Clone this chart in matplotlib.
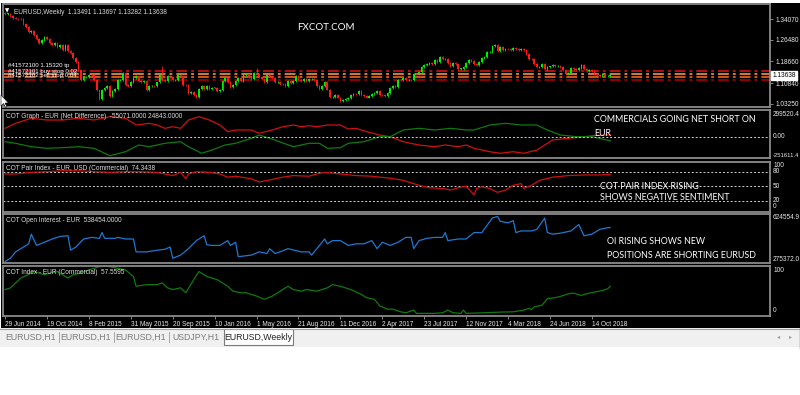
import numpy as np
import matplotlib.pyplot as plt
import matplotlib.transforms as mtrans
from matplotlib.patches import Rectangle, Polygon

# ---- data ----
first_open = 1.3640
closes = [
    1.3605, 1.3605, 1.3525, 1.3430, 1.3425, 1.3410, 1.3400, 1.3240, 1.3130, 1.2950,
    1.2960, 1.2830, 1.2680, 1.2520, 1.2630, 1.2760, 1.2670, 1.2525, 1.2455, 1.2525,
    1.2390, 1.2450, 1.2290, 1.2460, 1.2230, 1.2190, 1.2000, 1.1840, 1.1570, 1.1205,
    1.1290, 1.1310, 1.1385, 1.1380, 1.1195, 1.0840, 1.0495, 1.0825, 1.0890, 1.0970,
    1.0600, 1.0810, 1.0870, 1.1200, 1.1200, 1.1450, 1.1015, 1.0990, 1.1110, 1.1260,
    1.1350, 1.1165, 1.1110, 1.1160, 1.0830, 1.0985, 1.0985, 1.0970, 1.1105, 1.1385,
    1.1180, 1.1150, 1.1340, 1.1295, 1.1195, 1.1210, 1.1360, 1.1350, 1.1015, 1.1005,
    1.0740, 1.0770, 1.0645, 1.0590, 1.0885, 1.0990, 1.0870, 1.0970, 1.0860, 1.0920,
    1.0915, 1.0795, 1.0830, 1.1155, 1.1255, 1.1130, 1.0935, 1.1005, 1.1150, 1.1270,
    1.1165, 1.1390, 1.1395, 1.1285, 1.1225, 1.1455, 1.1405, 1.1310, 1.1225, 1.1115,
    1.1365, 1.1315, 1.1280, 1.1115, 1.1135, 1.1055, 1.1040, 1.0975, 1.1175, 1.1085,
    1.1160, 1.1325, 1.1195, 1.1155, 1.1235, 1.1155, 1.1225, 1.1240, 1.1200, 1.0970,
    1.0885, 1.0985, 1.1140, 1.0850, 1.0585, 1.0590, 1.0665, 1.0560, 1.0450, 1.0455,
    1.0520, 1.0530, 1.0645, 1.0705, 1.0695, 1.0780, 1.0640, 1.0615, 1.0560, 1.0620,
    1.0700, 1.0735, 1.0800, 1.0650, 1.0640, 1.0615, 1.0725, 1.0895, 1.0995, 1.0935,
    1.1205, 1.1180, 1.1280, 1.1195, 1.1200, 1.1195, 1.1425, 1.1400, 1.1470, 1.1665,
    1.1745, 1.1775, 1.1820, 1.1760, 1.1925, 1.1860, 1.2035, 1.1945, 1.1950, 1.1815,
    1.1710, 1.1820, 1.1785, 1.1610, 1.1610, 1.1665, 1.1795, 1.1935, 1.1895, 1.1770,
    1.1745, 1.1860, 1.2005, 1.2030, 1.2200, 1.2220, 1.2425, 1.2460, 1.2250, 1.2405,
    1.2295, 1.2315, 1.2305, 1.2285, 1.2355, 1.2325, 1.2280, 1.2330, 1.2285, 1.2130,
    1.1960, 1.1940, 1.1770, 1.1655, 1.1660, 1.1770, 1.1605, 1.1655, 1.1685, 1.1745,
    1.1685, 1.1720, 1.1655, 1.1565, 1.1410, 1.1440, 1.1620, 1.1600, 1.1550, 1.1625,
    1.1745, 1.1605, 1.1525, 1.1560, 1.1510, 1.1400, 1.1385, 1.1335, 1.1415, 1.1340,
    1.1349, 1.13638]
spike_highs = {60: 1.1714, 96: 1.1616}
order_levels = [1.1532, 1.1413, 1.1315, 1.1195]

date_labels = ['29 Jun 2014', '19 Oct 2014', '8 Feb 2015', '31 May 2015', '20 Sep 2015',
               '10 Jan 2016', '1 May 2016', '21 Aug 2016', '11 Dec 2016', '2 Apr 2017',
               '23 Jul 2017', '12 Nov 2017', '4 Mar 2018', '24 Jun 2018', '14 Oct 2018']
price_ticks = [1.34070, 1.26480, 1.18660, 1.10840, 1.03250]

# COT graph (net difference)
red_weeks = [0, 4, 10, 16, 22, 28, 34, 40, 46, 50, 55, 58, 61, 64, 67, 70, 74, 78, 82, 85,
             88, 94, 97, 102, 106, 110, 113, 116, 119, 123, 128, 131, 134, 138, 143, 147, 152,
             158, 164, 168, 173, 176, 179, 185, 189, 194, 198, 203, 206, 209, 215, 221, 225, 231]
red_net = [110500, 176600, 242700, 220200, 220200, 242700, 220200, 263800, 242700, 154100,
           176600, 154100, 110500, 131600, 110500, 220200, 263800, 220200, 154100, 65600,
           88000, 88000, 44400, 88000, 131600, 154100, 131600, 144900, 131600, 154100,
           154100, 101200, 110500, 65600, 21900, -500, -66600, -110200, -132700, -110200,
           -132700, -110200, -153800, -198800, -219900, -198800, -219900, -176300, -110200,
           -44100, -21700, -500, 15300, 24843]
green_weeks = [0, 4, 10, 16, 22, 28, 34, 40, 46, 51, 55, 61, 67, 70, 75, 79, 84, 88, 94, 97,
               103, 110, 116, 120, 123, 128, 131, 137, 143, 147, 152, 158, 164, 170, 176, 179,
               185, 191, 197, 203, 207, 212, 218, 224, 231]
green_net = [-66600, -87800, -132700, -153800, -145900, -132700, -153800, -251611, -198800,
             -110200, -132700, -87800, -66600, -132700, -219900, -176300, -110200, -87800,
             -21700, 21900, -44100, -132700, -87800, -87800, -153800, -145900, -87800, -66600,
             -500, -500, 88000, 110500, 88000, 110500, 88000, 88000, 154100, 176600, 154100,
             154100, 88000, 21900, -500, -500, -55071]

# COT pair index
pair_weeks = [0, 4, 10, 16, 22, 28, 34, 40, 46, 52, 58, 61, 64, 67, 69, 70, 73, 78, 82, 85,
              88, 94, 97, 102, 106, 110, 116, 119, 122, 128, 134, 140, 143, 147, 152, 158, 162,
              167, 170, 173, 176, 179, 180, 182, 185, 188, 191, 194, 197, 198, 201, 204, 209,
              215, 221, 227, 231]
pair_index = [75.3, 75.3, 78.7, 80, 82, 82, 80, 78.7, 80, 80, 78.7, 75.3, 72, 78.7, 65.3,
              75.3, 80, 78.7, 75.3, 68.7, 70.7, 65.3, 58.7, 64, 68.7, 72, 70.7, 75.3, 78.7,
              75.3, 72, 70.7, 68.7, 66.7, 62, 52, 46.7, 45.3, 42, 46.7, 50, 32, 45.3, 48.7,
              45.3, 37.3, 42, 52, 55.3, 45.3, 52, 62, 68.7, 72, 73.3, 73.3, 74.3438]

# COT open interest
oi_weeks = [0, 2, 4, 6, 9, 10, 12, 15, 18, 21, 24, 25, 27, 30, 33, 36, 37, 38, 42, 43, 46,
            49, 50, 54, 58, 61, 63, 64, 67, 70, 73, 76, 77, 79, 82, 85, 86, 88, 89, 94, 97,
            100, 101, 103, 105, 108, 113, 116, 117, 120, 122, 123, 125, 128, 131, 134, 137,
            140, 142, 144, 147, 150, 153, 155, 156, 158, 161, 164, 167, 168, 169, 173, 176,
            179, 182, 186, 188, 189, 192, 194, 195, 197, 201, 203, 206, 207, 209, 212, 216,
            219, 221, 224, 227, 230, 231]
open_interest = [275372, 300300, 350200, 375100, 412500, 487400, 400100, 425000, 450000,
                 469900, 474900, 362700, 387600, 450000, 462400, 455000, 499800, 455000,
                 455000, 462400, 450000, 450000, 350200, 350200, 362700, 370200, 387600,
                 300300, 325300, 375100, 437500, 474900, 405100, 400100, 400100, 437500,
                 400100, 425000, 312800, 325300, 350200, 337700, 375100, 337700, 350200,
                 375100, 350200, 350200, 325300, 400100, 450000, 412500, 437500, 437500,
                 400100, 412500, 412500, 437500, 375100, 425000, 400100, 425000, 462400,
                 462400, 375100, 437500, 455000, 462400, 462400, 499800, 437500, 450000,
                 450000, 499800, 499800, 612100, 624554, 587100, 574700, 592100, 499800,
                 512300, 512300, 524800, 612000, 499800, 487400, 494900, 512300, 562200,
                 474900, 487400, 524800, 537300, 538454]

# COT index (commercial)
idx_weeks = [0, 2, 6, 10, 11, 15, 17, 20, 24, 26, 29, 32, 36, 39, 43, 46, 49, 50, 54, 58,
             60, 62, 64, 67, 69, 72, 74, 77, 81, 85, 87, 90, 92, 96, 99, 102, 108, 110, 113,
             115, 119, 123, 125, 128, 132, 136, 138, 141, 143, 146, 148, 151, 153, 156, 157,
             164, 167, 169, 171, 174, 175, 176, 183, 189, 194, 198, 200, 201, 202, 205, 207,
             210, 212, 215, 217, 220, 222, 225, 228, 230, 231]
cot_index = [50.6, 54, 75, 85.4, 88.8, 81.9, 85.4, 88.8, 75, 81.9, 85.4, 92.3, 99.2, 100,
             95.8, 92.3, 78.3, 57.5, 61, 61, 64.6, 54.2, 50.6, 54.2, 43.8, 71.5, 88.8, 78.3,
             71.5, 57.5, 47.1, 43.8, 43.8, 36.7, 29.8, 36.7, 57.5, 50.6, 47.1, 50.6, 47.1,
             54.2, 61, 57.5, 50.6, 40.2, 33.3, 29.8, 15.8, 9, 9, 3.3, 1.3, 6.9, 0, 0, 1.3,
             6.9, 1.3, 0, 6.9, 0, 1.3, 2.7, 3.3, 6.9, 10.4, 8.3, 13.9, 17.4, 31.2, 33.3, 36.1,
             41.7, 43, 38.2, 41.7, 45.1, 48.6, 52.1, 57.5595]

W, H = 800, 395
FS = 4.7  # small MT4 style text
plt.rcParams['font.family'] = ['Liberation Sans', 'DejaVu Sans']

fig = plt.figure(figsize=(8, 3.95), dpi=100)
fig.patch.set_facecolor('white')


def rect(x0, y0, x1, y1, **kw):
    fig.add_artist(Rectangle((x0 / W, 1 - y1 / H), (x1 - x0) / W, (y1 - y0) / H,
                             transform=fig.transFigure, **kw))


def ftext(x, y, s, **kw):
    fig.text(x / W, 1 - y / H, s, **kw)


# window background
rect(1, 3, 800, 328, facecolor='black', edgecolor='none', zorder=0)
rect(0, 328, 800, 347, facecolor='#f0f0f0', edgecolor='none', zorder=0)


def add_panel(y0, y1):
    ax = fig.add_axes([3 / W, 1 - y1 / H, 767 / W, (y1 - y0) / H])
    ax.set_facecolor('black')
    ax.set_xlim(-0.8, 292)
    for s in ax.spines.values():
        s.set_color('#8a8a8a')
        s.set_linewidth(1.3)
    ax.tick_params(axis='x', bottom=False, labelbottom=False)
    ax.yaxis.tick_right()
    ax.tick_params(axis='y', colors='#9a9a9a', labelcolor='#e8e8e8', length=2.5,
                   width=0.6, labelsize=FS, pad=1.2)
    return ax


def side_label(ax, yval, s, fs=FS):
    tr = mtrans.blended_transform_factory(ax.transAxes, ax.transData)
    ax.text(1.004, yval, s, transform=tr, color='#e8e8e8', fontsize=fs,
            va='center', ha='left', clip_on=False)


def title(ax, s):
    ax.text(0.004, 0.93, s, transform=ax.transAxes, color='#dcdcdc', fontsize=FS,
            va='top', ha='left')


# ---- price panel ----
ax1 = add_panel(4, 107)
ax1.set_ylim(1.0216, 1.3951)
ax1.set_yticks(price_ticks)
ax1.set_yticklabels(['%.5f' % p for p in price_ticks])

x = np.arange(len(closes))
c = np.array(closes)
o = np.array([first_open] + closes[:-1])
up = c >= o
colors = np.where(up, '#00ee00', '#ff1a1a')
top = np.maximum(o, c)
bot = np.minimum(o, c)
hi = top + 0.0035
lo = bot - 0.0035
for i, h in spike_highs.items():
    hi[i] = h
ax1.vlines(x, lo, hi, colors=colors, linewidth=0.6, zorder=3)
ax1.bar(x, np.maximum(top - bot, 0.0009), bottom=bot, width=0.62, color=colors,
        linewidth=0, zorder=4)

level_colors = ['#c41010', '#d88a4a', '#e05a20', '#9a0000']
for lv, lc in zip(order_levels, level_colors):
    ax1.axhline(lv, color=lc, linewidth=1.3, linestyle=(0, (6, 2.2, 1.6, 2.2)), zorder=2)

tr1 = mtrans.blended_transform_factory(ax1.transAxes, ax1.transData)
ax1.text(1.003, closes[-1], '1.13638', transform=tr1, color='black', fontsize=FS,
         va='center', ha='left', clip_on=False,
         bbox=dict(facecolor='white', edgecolor='white', pad=0.8))

ax1.text(0.003, 0.955, '\u25bc', transform=ax1.transAxes, color='white', fontsize=4,
         va='top', ha='left', family='DejaVu Sans')
ax1.text(0.014, 0.955, 'EURUSD,Weekly  1.13491 1.13697 1.13282 1.13638',
         transform=ax1.transAxes, color='#dcdcdc', fontsize=FS, va='top', ha='left')
ftext(297, 27, 'FXCOT.COM', color='white', fontsize=7, family=['Lato', 'DejaVu Sans'],
      va='center', ha='left')
ftext(8, 66, '#41572100 1.15320 tp', color='white', fontsize=4.4, va='center')
ftext(8, 71, '#41572101 buy stop 0.02', color='white', fontsize=4.4, va='center')
ftext(8, 75, '#41572102 sell stop 0.04', color='white', fontsize=4.4, va='center')

# ---- COT graph ----
ax2 = add_panel(110, 158)
ax2.set_ylim(-282000, 352400)
ax2.set_yticks([])
ax2.plot(red_weeks, red_net, color='#d01010', linewidth=0.9)
ax2.plot(green_weeks, green_net, color='#0f7a0f', linewidth=0.9)
ax2.axhline(0, color='#d0d0d0', linewidth=0.7, linestyle=(0, (2, 2)))
side_label(ax2, 299520.4, '299520.4')
side_label(ax2, 0, '0.00')
side_label(ax2, -251611.4, '-251611.4', fs=4.2)
title(ax2, 'COT Graph - EUR (Net Difference)  -55071.0000 24843.0000')

# ---- COT pair index ----
ax3 = add_panel(162, 212)
ax3.set_ylim(-3.4, 100.1)
ax3.set_yticks([])
for lv in [80, 50, 20]:
    ax3.axhline(lv, color='#d0d0d0', linewidth=0.7, linestyle=(0, (2, 2)))
ax3.plot(pair_weeks, pair_index, color='#d01010', linewidth=0.9)
for v, s in [(92.5, '100'), (80, '80'), (50, '50'), (20, '20'), (7.5, '0')]:
    side_label(ax3, v, s)
title(ax3, 'COT Pair Index - EUR, USD (Commercial)  74.3438')

# ---- open interest ----
ax4 = add_panel(214, 263)
ax4.set_ylim(264000, 643500)
ax4.set_yticks([])
ax4.plot(oi_weeks, open_interest, color='#1f78d1', linewidth=0.9)
side_label(ax4, 613200, '624554.9')
side_label(ax4, 294300, '275372.0')
title(ax4, 'COT Open Interest - EUR  538454.0000')

# ---- COT index ----
ax5 = add_panel(266, 316)
ax5.set_ylim(-5.6, 100.6)
ax5.set_yticks([])
ax5.plot(idx_weeks, cot_index, color='#0f7a0f', linewidth=0.9)
side_label(ax5, 90, '100')
side_label(ax5, 7, '0')
title(ax5, 'COT Index - EUR (Commercial)  57.5595')
ax5.set_xticks(np.arange(len(date_labels)) * 16)
ax5.set_xticklabels(date_labels, ha='left')
ax5.tick_params(axis='x', bottom=True, labelbottom=True, colors='#9a9a9a',
                labelcolor='#e8e8e8', length=2.5, width=0.6, labelsize=FS, pad=1)

# ---- annotations ----
ann = dict(color='white', fontsize=6.4, family=['Lato', 'DejaVu Sans'], va='center', ha='left')
ftext(594, 120, 'COMMERCIALS GOING NET SHORT ON', **ann)
ftext(594, 133, 'EUR', **ann)
ftext(600, 186, 'COT PAIR INDEX RISING', **ann)
ftext(600, 198, 'SHOWS NEGATIVE SENTIMENT', **ann)
ftext(607, 241, 'OI RISING SHOWS NEW', **ann)
ftext(607, 255, 'POSITIONS ARE SHORTING EURUSD', **ann)

# mouse cursor
cur = [(1, 95), (1, 106), (3.5, 103.5), (5.5, 107.5), (7, 106.8), (5, 103), (8.5, 103)]
fig.add_artist(Polygon([(px / W, 1 - py / H) for px, py in cur], closed=True,
                       transform=fig.transFigure, facecolor='white', edgecolor='black',
                       linewidth=0.4, zorder=10))

# ---- tab bar ----
fig.add_artist(plt.Line2D([0, 1], [1 - 328.5 / H] * 2, transform=fig.transFigure,
                          color='#a0a0a0', linewidth=0.8))
tabs = ['EURUSD,H1', 'EURUSD,H1', 'EURUSD,H1', 'USDJPY,H1']
tab_x = [31, 86, 141, 196]
for t, tx in zip(tabs, tab_x):
    ftext(tx, 337, t, color='#7c7c7c', fontsize=6.3, ha='center', va='center')
for sx in [59, 114, 169]:
    fig.add_artist(plt.Line2D([sx / W] * 2, [1 - 332 / H, 1 - 342 / H],
                              transform=fig.transFigure, color='#a8a8a8', linewidth=0.7))
rect(224, 329, 293, 345, facecolor='white', edgecolor='#7a7a7a', linewidth=0.8)
ftext(258.5, 337, 'EURUSD,Weekly', color='#202020', fontsize=6.3, ha='center', va='center')
ftext(779, 337, '\u25c2', color='#9a9a9a', fontsize=4.5, ha='center', va='center',
      family='DejaVu Sans')
ftext(791, 337, '\u25b8', color='#9a9a9a', fontsize=4.5, ha='center', va='center',
      family='DejaVu Sans')
fig.add_artist(plt.Line2D([799.5 / W] * 2, [1 - 328 / H, 1 - 348 / H],
                          transform=fig.transFigure, color='#3c7fd0', linewidth=1))

fig.savefig('out.png', dpi=100, facecolor=fig.get_facecolor())
